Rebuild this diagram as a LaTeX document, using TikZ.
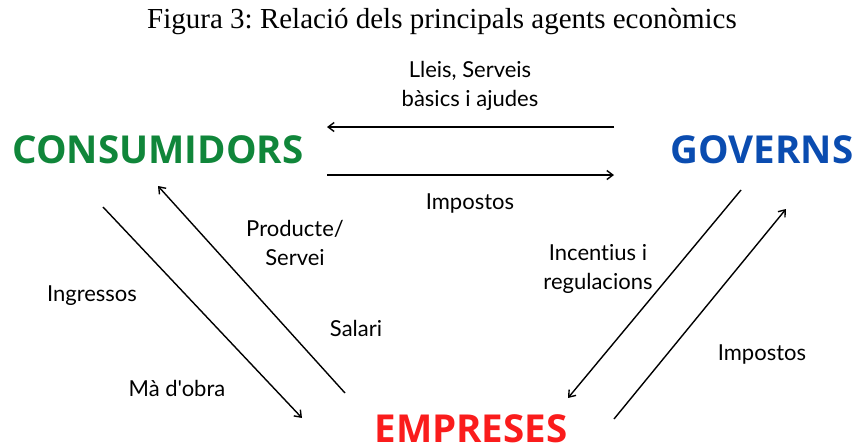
\documentclass[tikz,border=0pt]{standalone}
\usepackage{fontspec}
\setmainfont{Liberation Serif}
\newfontfamily\labfont{Lato}[Ligatures={NoCommon}]
\newfontfamily\headfont{Open Sans}[UprightFont=* Bold]
\usetikzlibrary{arrows.meta}
\definecolor{cgreen}{RGB}{16,134,58}
\definecolor{cblue}{RGB}{10,76,176}
\definecolor{cred}{RGB}{250,28,28}
\frenchspacing
\begin{document}
\begin{tikzpicture}[x=1pt,y=-1pt,
  lab/.style={font=\labfont\fontsize{22}{29}\selectfont, align=center, inner sep=0pt},
  head/.style={font=\headfont\fontsize{38.5}{42}\selectfont, inner sep=0pt},
  flow/.style={line width=1.4pt, -{Straight Barb[length=6pt,width=9pt,line width=1.4pt]}}]
\useasboundingbox (0,0) rectangle (855,445);
\node[font=\fontsize{29}{32}\selectfont, inner sep=0pt] (title) at (442,22) {Figura 3: Relació dels principals agents econòmics};
\node[head, text=cgreen] (cons) at (158,150) {CONSUMIDORS};
\node[head, text=cblue] (gov) at (762,150) {GOVERNS};
\node[head, text=cred] (emp) at (471,429) {EMPRESES};
% connector end points
\coordinate (t1s) at (614,127); \coordinate (t1e) at (327,127);
\coordinate (t2s) at (327,175); \coordinate (t2e) at (614,175);
\coordinate (l1s) at (103,207); \coordinate (l1e) at (302,418);
\coordinate (l2s) at (345,393); \coordinate (l2e) at (158,186);
\coordinate (r1s) at (741,190); \coordinate (r1e) at (568,398);
\coordinate (r2s) at (614,419); \coordinate (r2e) at (786,209);
\draw[flow] (t1s) -- (t1e);
\draw[flow] (t2s) -- (t2e);
\draw[flow] (l1s) -- (l1e);
\draw[flow] (l2s) -- (l2e);
\draw[flow] (r1s) -- (r1e);
\draw[flow] (r2s) -- (r2e);
% labels
\node[lab] (lleis) at (470,86) {Lleis, Serveis\\bàsics i ajudes};
\node[lab] (imp1) at (470,204) {Impostos};
\node[lab] (prod) at (295,243) {Producte/\\Servei};
\node[lab] (ingr) at (92,296) {Ingressos};
\node[lab] (sal) at (356,328) {Salari};
\node[lab] (ma) at (177,388) {Mà d'obra};
\node[lab] (inc) at (598,269) {Incentius i\\regulacions};
\node[lab] (imp2) at (762,354) {Impostos};
\end{tikzpicture}
\end{document}
